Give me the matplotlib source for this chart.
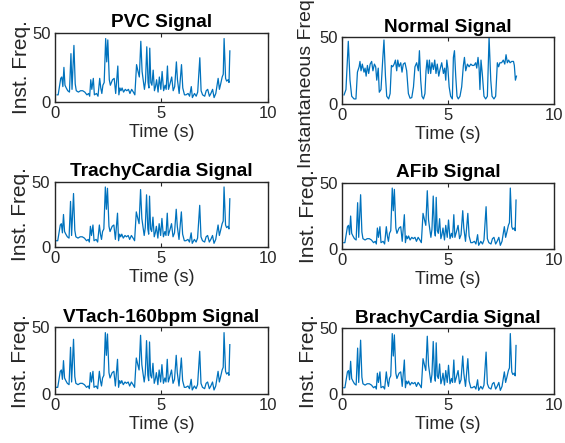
"""
Instantaneous frequency of six ECG signals, 3x2 grid.
"""
import matplotlib
matplotlib.use("Agg")
import matplotlib.pyplot as plt

# time / inst. freq of the shared abnormal trace (PVC, TrachyCardia, AFib,
# VTach-160bpm and BrachyCardia all show the same curve)
abn_t = [0.10, 0.15, 0.20, 0.27, 0.32, 0.37, 0.42, 0.47, 0.53, 0.60, 0.68,
         0.75, 0.80, 0.89, 0.95, 1.00, 1.10, 1.20, 1.30, 1.40, 1.50, 1.58,
         1.63, 1.68, 1.73, 1.80, 1.85, 1.95, 2.02, 2.10, 2.15, 2.20, 2.25,
         2.31, 2.38, 2.43, 2.48, 2.55, 2.60, 2.70, 2.78, 2.85, 2.95, 3.00,
         3.05, 3.10, 3.15, 3.22, 3.30, 3.37, 3.45, 3.52, 3.60, 3.68, 3.75,
         3.83, 3.90, 3.96, 4.03, 4.09, 4.14, 4.20, 4.25, 4.31, 4.37, 4.41,
         4.45, 4.50, 4.55, 4.61, 4.67, 4.72, 4.77, 4.84, 4.90, 4.97, 5.03,
         5.10, 5.17, 5.22, 5.28, 5.33, 5.40, 5.48, 5.55, 5.62, 5.70, 5.75,
         5.83, 5.94, 6.00, 6.08, 6.15, 6.25, 6.32, 6.40, 6.45, 6.55, 6.63,
         6.70, 6.80, 6.86, 6.93, 7.03, 7.10, 7.17, 7.25, 7.32, 7.40, 7.47,
         7.55, 7.60, 7.66, 7.72, 7.78, 7.85, 7.90, 7.94, 8.01, 8.06, 8.13,
         8.17, 8.21]
abn_f = [5, 5, 10, 17, 18, 11, 25, 12, 10, 8, 7,
         35, 9, 41, 13, 8, 7, 8, 8, 7, 5, 6,
         4, 16, 9, 17, 5, 6, 4, 17, 10, 6, 12,
         14, 46, 29, 45, 16, 12, 16, 17, 6, 26, 5,
         10, 8, 10, 7, 9, 8, 9, 6, 9, 7, 5,
         27, 22, 18, 44, 22, 16, 9, 15, 40, 14, 10,
         39, 14, 12, 23, 8, 11, 16, 7, 18, 9, 22,
         8, 12, 9, 26, 9, 13, 18, 8, 11, 29, 16,
         6, 27, 10, 5, 5, 6, 4, 11, 3, 6, 4,
         7, 32, 8, 5, 4, 8, 9, 4, 6, 9, 3,
         6, 11, 17, 9, 13, 18, 20, 46, 17, 15, 16,
         14, 37]

normal_t = [0.11, 0.20, 0.31, 0.39, 0.47, 0.58, 0.67, 0.74, 0.82, 0.86, 0.91,
            0.97, 1.05, 1.10, 1.15, 1.21, 1.27, 1.34, 1.41, 1.47, 1.54, 1.60,
            1.65, 1.72, 1.77, 1.85, 1.93, 1.99, 2.06, 2.12, 2.21, 2.28, 2.34,
            2.40, 2.47, 2.53, 2.59, 2.64, 2.70, 2.78, 2.84, 2.90, 2.98, 3.06,
            3.14, 3.22, 3.30, 3.38, 3.45, 3.53, 3.61, 3.66, 3.72, 3.78, 3.85,
            3.92, 3.97, 4.02, 4.08, 4.13, 4.19, 4.25, 4.32, 4.38, 4.44, 4.50,
            4.57, 4.63, 4.71, 4.79, 4.85, 4.90, 4.95, 5.00, 5.06, 5.13, 5.21,
            5.26, 5.31, 5.37, 5.43, 5.49, 5.57, 5.65, 5.73, 5.78, 5.84, 5.92,
            6.00, 6.08, 6.15, 6.23, 6.31, 6.36, 6.42, 6.47, 6.51, 6.56, 6.62,
            6.70, 6.78, 6.86, 6.94, 7.02, 7.08, 7.17, 7.25, 7.33, 7.39, 7.45,
            7.53, 7.61, 7.68, 7.74, 7.80, 7.86, 7.93, 8.01, 8.09, 8.13, 8.18,
            8.23]
normal_f = [7, 11, 47, 18, 6, 4, 4, 24, 28, 32, 25,
            30, 24, 27, 21, 29, 23, 30, 32, 25, 30, 28,
            18, 27, 9, 11, 33, 48, 21, 6, 4, 8, 29,
            28, 30, 33, 25, 33, 28, 31, 24, 30, 31, 25,
            8, 4.5, 5, 13, 28, 31, 25, 40, 18, 6, 4,
            8, 25, 33, 23, 33, 23, 31, 26, 33, 23, 30,
            21, 26, 31, 23, 27, 18, 33, 27, 13, 6, 4,
            35, 40, 21, 6, 4, 6, 13, 29, 35, 25, 30,
            28, 30, 29, 29, 31, 27, 35, 27, 11, 33, 23,
            6, 4, 6, 50, 18, 6, 4, 6, 31, 28, 31,
            31, 33, 30, 37, 31, 33, 31, 32, 32, 29, 18,
            21]

panels = [
    ("PVC Signal", "Inst. Freq.", abn_t, abn_f, [0.0973, 0.7704, 0.3770, 0.1550]),
    ("Normal Signal", "Instantaneous Frequency", normal_t, normal_f,
     [0.6048, 0.7646, 0.3758, 0.1512]),
    ("TrachyCardia Signal", "Inst. Freq.", abn_t, abn_f, [0.0965, 0.4418, 0.3779, 0.1480]),
    ("AFib Signal", "Inst. Freq.", abn_t, abn_f, [0.6048, 0.4372, 0.3758, 0.1503]),
    ("VTach-160bpm Signal", "Inst. Freq.", abn_t, abn_f, [0.0965, 0.1106, 0.3779, 0.1506]),
    ("BrachyCardia Signal", "Inst. Freq.", abn_t, abn_f, [0.6048, 0.1099, 0.3758, 0.1490]),
]

LINE_COLOR = "#0072BD"
AX_COLOR = "#262626"


def main() -> None:
    plt.rcParams["font.family"] = ["Liberation Sans", "DejaVu Sans"]
    fig = plt.figure(figsize=(5.65, 4.43), dpi=100)

    for title, ylabel, t, f, rect in panels:
        ax = fig.add_axes(rect)
        ax.plot(t, f, color=LINE_COLOR, linewidth=0.9)
        ax.set_xlim(0, 10)
        ax.set_ylim(0, 50)
        ax.set_xticks([0, 5, 10])
        ax.set_yticks([0, 50])
        ax.tick_params(direction="in", top=True, right=True, length=3,
                       width=0.8, labelsize=12, colors=AX_COLOR, pad=3)
        for spine in ax.spines.values():
            spine.set_color(AX_COLOR)
            spine.set_linewidth(1.0)
        ax.set_title(title, fontsize=13.7, fontweight="bold", pad=4)
        ax.set_xlabel("Time (s)", fontsize=13, color=AX_COLOR, labelpad=2)
        if ylabel.startswith("Instantaneous"):
            # long label runs past the top of the figure
            ax.set_ylabel(ylabel, fontsize=14, color=AX_COLOR)
            ax.yaxis.set_label_coords(-0.125, 0.70)
        else:
            ax.set_ylabel(ylabel, fontsize=15, color=AX_COLOR, labelpad=1)

    fig.savefig("out.png", dpi=100)
    plt.close(fig)


if __name__ == "__main__":
    main()
